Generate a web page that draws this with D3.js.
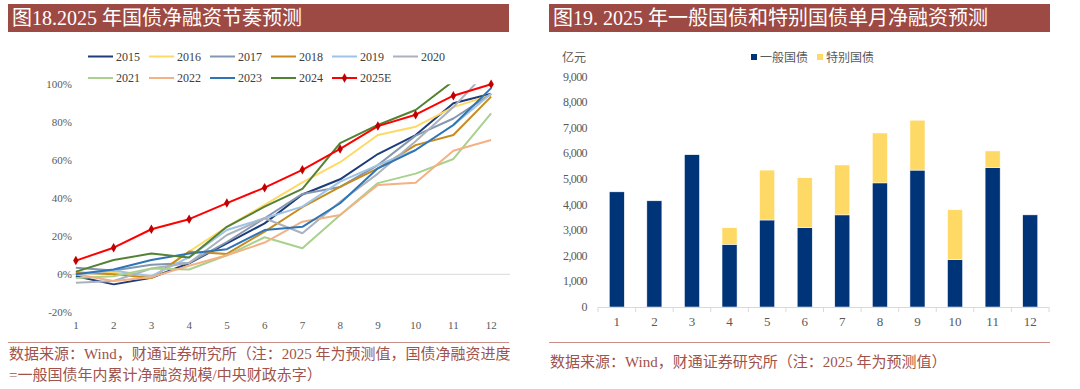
<!DOCTYPE html>
<html>
<head>
<meta charset="utf-8">
<script src="https://cdn.jsdelivr.net/npm/d3@7"></script>
<style>
  body { margin: 0; background: #fff; }
  svg { display: block; }
  .ttl { font-family: "Liberation Serif", "Noto Sans CJK SC", serif; font-size: 20px; fill: #fff; }
  .src { font-family: "Liberation Serif", "Noto Sans CJK SC", serif; font-size: 15px; fill: #A0524B; }
  .tick { font-family: "Liberation Serif", "Noto Sans CJK SC", serif; fill: #595959; }
  .leg { font-family: "Liberation Serif", "Noto Sans CJK SC", serif; fill: #404040; }
</style>
</head>
<body>
<svg id="chart" width="1080" height="389"></svg>
<script>
// months shared by both panels
var months = [1, 2, 3, 4, 5, 6, 7, 8, 9, 10, 11, 12];

// left panel: cumulative net financing progress, % of deficit
var years = ["2015", "2016", "2017", "2018", "2019", "2020", "2021", "2022", "2023", "2024", "2025E"];
var progress = {
  "2015": [-1, -5.3, -1.8, 5.8, 16.3, 26.8, 42, 50, 63.3, 73.3, 90, 95],
  "2016": [1, 1, -2, 12, 25, 36.5, 48.4, 59, 73.3, 77.7, 88, 94.4],
  "2017": [3.5, 2, 5, 6, 17, 29.5, 42.3, 46, 57.5, 73, 82, 95],
  "2018": [1, 0, -2, 12, 10.7, 22.5, 35.3, 46, 55.8, 68, 73.3, 93.5],
  "2019": [0, 2, -1, 9, 23.3, 29.5, 35.6, 48.8, 57.5, 65.4, 78.6, 95],
  "2020": [-4.5, -3.5, 3, 6, 20.7, 29.5, 21.6, 38.2, 53, 70, 88, 109],
  "2021": [-2, -1, 3, 2.5, 10, 19.5, 13.7, 31.2, 48, 53, 60.7, 84.7],
  "2022": [0, -3.5, -1.5, 4.5, 10, 16.7, 27.7, 31.2, 47, 48.2, 65, 70.7],
  "2023": [0, 2.5, 7.5, 11, 13.2, 23.3, 25, 37.4, 55.8, 65.4, 78.6, 98],
  "2024": [1.4, 7.5, 10.9, 8.8, 25, 35.6, 45, 69, 78.6, 86.5, 101.7, 115],
  "2025E": [7.2, 14, 23.7, 29, 37.5, 45.6, 55, 66, 78, 84, 94, 100]
};
var yearColors = {
  "2015": "#1F3D7A", "2016": "#FFD966", "2017": "#8497B0", "2018": "#C98A1E",
  "2019": "#9DC3E6", "2020": "#AAB2BD", "2021": "#A9D18E", "2022": "#F4B183",
  "2023": "#2E75B6", "2024": "#548235", "2025E": "#FF0000"
};
var pctTicks = [-20, 0, 20, 40, 60, 80, 100];

// right panel: monthly net financing, 100 million yuan
var general = [4500, 4150, 5950, 2450, 3400, 3100, 3600, 4850, 5350, 1850, 5450, 3600];
var special = [0, 0, 0, 650, 1950, 1950, 1950, 1950, 1950, 1950, 650, 0];
var barTicks = [0, 1000, 2000, 3000, 4000, 5000, 6000, 7000, 8000, 9000];

var svg = d3.select("#chart");
var serif = '"Liberation Serif", "Noto Sans CJK SC", serif';

// ---- title bars ----
function titleBar(x, w, text) {
  svg.append("rect").attr("x", x).attr("y", 4).attr("width", w).attr("height", 28)
    .attr("fill", "#9E4A44");
  svg.append("text").attr("class", "ttl").attr("x", x + 4).attr("y", 25).text(text);
}
titleBar(8, 501, "图18.2025 年国债净融资节奏预测");
titleBar(549, 501, "图19. 2025 年一般国债和特别国债单月净融资预测");

// ---- footers ----
svg.append("line").attr("x1", 8).attr("x2", 509).attr("y1", 342.5).attr("y2", 342.5)
  .attr("stroke", "#C98F89").attr("stroke-width", 1);
svg.append("line").attr("x1", 549).attr("x2", 1050).attr("y1", 342.5).attr("y2", 342.5)
  .attr("stroke", "#C98F89").attr("stroke-width", 1);
svg.append("text").attr("class", "src").attr("x", 9).attr("y", 359)
  .text("数据来源：Wind，财通证券研究所（注：2025 年为预测值，国债净融资进度");
svg.append("text").attr("class", "src").attr("x", 9).attr("y", 380)
  .text("=一般国债年内累计净融资规模/中央财政赤字）");
svg.append("text").attr("class", "src").attr("x", 550).attr("y", 367)
  .text("数据来源：Wind，财通证券研究所（注：2025 年为预测值）");

// ---- left panel ----
var xL = d3.scaleBand().domain(months).range([57, 510]);
var yL = d3.scaleLinear().domain([-20, 100]).range([312.3, 84.3]);

var gL = svg.append("g");
gL.append("line").attr("x1", 57).attr("x2", 510)
  .attr("y1", yL(0)).attr("y2", yL(0)).attr("stroke", "#D9D9D9").attr("stroke-width", 1);

gL.selectAll("text.ylab").data(pctTicks).enter().append("text")
  .attr("class", "tick ylab").attr("x", 72).attr("y", function(d) { return yL(d) + 4; })
  .attr("text-anchor", "end").attr("font-size", 11)
  .text(function(d) { return d + "%"; });

gL.selectAll("text.xlab").data(months).enter().append("text")
  .attr("class", "tick xlab").attr("x", function(d) { return xL(d) + xL.bandwidth() / 2; })
  .attr("y", 329).attr("text-anchor", "middle").attr("font-size", 11)
  .text(function(d) { return d; });

svg.append("clipPath").attr("id", "plotL").append("rect")
  .attr("x", 50).attr("y", yL(100)).attr("width", 470).attr("height", yL(-20) - yL(100));

var line = d3.line()
  .x(function(d, i) { return xL(months[i]) + xL.bandwidth() / 2; })
  .y(function(d) { return yL(d); });

years.forEach(function(yr) {
  var p = gL.append("path").datum(progress[yr])
    .attr("d", line).attr("fill", "none")
    .attr("stroke", yearColors[yr]).attr("stroke-width", 2)
    .attr("stroke-linejoin", "round");
  if (yr !== "2025E") p.attr("clip-path", "url(#plotL)");
});

var diamond = d3.symbol().type(d3.symbolDiamond).size(26);
gL.selectAll("path.mk").data(progress["2025E"]).enter().append("path")
  .attr("class", "mk").attr("d", diamond).attr("fill", "#C00000")
  .attr("transform", function(d, i) {
    return "translate(" + (xL(months[i]) + xL.bandwidth() / 2) + "," + yL(d) + ")";
  });

// legend
var leg = gL.selectAll("g.leg").data(years).enter().append("g")
  .attr("transform", function(d, i) {
    return "translate(" + (88 + (i % 6) * 61) + "," + (i < 6 ? 56.5 : 78) + ")";
  });
leg.append("line").attr("x1", 0).attr("x2", 25).attr("y1", 0).attr("y2", 0)
  .attr("stroke", function(d) { return yearColors[d]; }).attr("stroke-width", 2);
leg.filter(function(d) { return d === "2025E"; }).append("path")
  .attr("d", diamond).attr("fill", "#C00000").attr("transform", "translate(12.5,0)");
leg.append("text").attr("class", "leg").attr("x", 28).attr("y", 4).attr("font-size", 12)
  .text(function(d) { return d; });

// ---- right panel ----
var xR = d3.scaleBand().domain(months).range([598, 1049]).paddingInner(0.6).paddingOuter(0.3);
var yR = d3.scaleLinear().domain([0, 9000]).range([307, 76.7]);
var gR = svg.append("g");

gR.selectAll("text.ylab").data(barTicks).enter().append("text")
  .attr("class", "tick ylab").attr("x", 587).attr("y", function(d) { return yR(d) + 4; })
  .attr("text-anchor", "end").attr("font-size", 12).attr("letter-spacing", -0.6)
  .text(function(d) { return d3.format(",")(d); });

gR.append("text").attr("class", "tick").attr("x", 562).attr("y", 62)
  .attr("font-size", 12).attr("font-family", serif).text("亿元");

var stack = months.map(function(m, i) { return { m: m, g: general[i], s: special[i] }; });

gR.selectAll("rect.gen").data(stack).enter().append("rect")
  .attr("class", "gen").attr("x", function(d) { return xR(d.m); })
  .attr("width", xR.bandwidth())
  .attr("y", function(d) { return yR(d.g); })
  .attr("height", function(d) { return yR(0) - yR(d.g); })
  .attr("fill", "#003478").attr("stroke", "#fff").attr("stroke-width", 0.5);

gR.selectAll("rect.spc").data(stack.filter(function(d) { return d.s > 0; })).enter().append("rect")
  .attr("class", "spc").attr("x", function(d) { return xR(d.m); })
  .attr("width", xR.bandwidth())
  .attr("y", function(d) { return yR(d.g + d.s); })
  .attr("height", function(d) { return yR(d.g) - yR(d.g + d.s); })
  .attr("fill", "#FFD966").attr("stroke", "#fff").attr("stroke-width", 0.5);

// x axis with ticks between categories
gR.append("line").attr("x1", 598).attr("x2", 1049).attr("y1", yR(0) + 0.5).attr("y2", yR(0) + 0.5)
  .attr("stroke", "#D9D9D9");
gR.selectAll("line.tk").data(d3.range(13)).enter().append("line")
  .attr("class", "tk")
  .attr("x1", function(k) { return 598 + k * 451 / 12; })
  .attr("x2", function(k) { return 598 + k * 451 / 12; })
  .attr("y1", yR(0)).attr("y2", yR(0) + 5).attr("stroke", "#D9D9D9");

gR.selectAll("text.xlab").data(months).enter().append("text")
  .attr("class", "tick xlab").attr("x", function(d) { return xR(d) + xR.bandwidth() / 2; })
  .attr("y", 326).attr("text-anchor", "middle").attr("font-size", 13)
  .text(function(d) { return d; });

// legend
var legR = [["一般国债", "#003478", 751], ["特别国债", "#FFD966", 817]];
legR.forEach(function(l) {
  gR.append("rect").attr("x", l[2]).attr("y", 54).attr("width", 6).attr("height", 6).attr("fill", l[1]);
  gR.append("text").attr("class", "tick").attr("x", l[2] + 9).attr("y", 62)
    .attr("font-size", 12).text(l[0]);
});
</script>
</body>
</html>
